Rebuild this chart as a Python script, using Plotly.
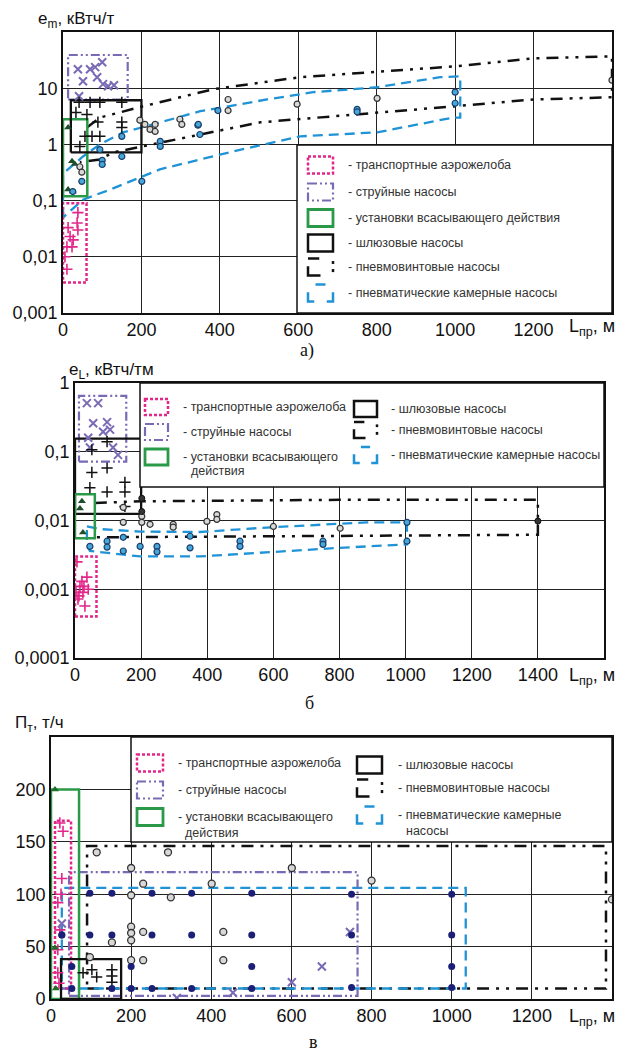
import plotly.graph_objects as go

# page body has an 8px margin, so the figure is drawn 8px in from the window corner
OFF = 8
W, H = 630 - OFF, 1052 - OFF

# ---------------- DATA ----------------
# Panel a (e_m vs L)
a_pink_box_x = [0, 60]; a_pink_box_y = [0.0035, 0.09]
a_purple_box_x = [13, 165]; a_purple_box_y = [6.3, 39]
a_green_box_x = [0, 62]; a_green_box_y = [0.12, 2.8]
a_black_box_x = [20, 200]; a_black_box_y = [0.72, 6.1]

a_screw_up_x = [61, 94, 204, 383, 605, 801, 1005, 1199, 1400]
a_screw_up_y = [2.0, 3.0, 4.76, 9.6, 15.7, 19.4, 24.6, 34, 37]
a_screw_lo_x = [43, 94, 128, 204, 350, 503, 801, 1005, 1199, 1400]
a_screw_lo_y = [0.48, 0.54, 0.72, 0.92, 1.5, 2.47, 3.7, 4.8, 6.3, 6.9]

a_chamber_x = [0, 0, 51, 94, 153, 230, 350, 520, 638, 801, 962, 1013, 1013, 995, 801, 605, 434, 247, 120, 51, 0]
a_chamber_y = [0.05, 0.3, 0.61, 1.0, 1.64, 2.27, 3.9, 6.3, 8.5, 10.4, 15.7, 16.3, 3.0, 3.0, 1.64, 1.39, 0.75, 0.36, 0.157, 0.104, 0.05]

a_pink_x = [38, 13, 36, 38, 18, 10, 5, 10, 23, 26]
a_pink_y = [0.061, 0.033, 0.040, 0.030, 0.023, 0.015, 0.010, 0.006, 0.015, 0.020]
a_purple_x = [38, 51, 69, 82, 100, 87, 102, 115, 130, 41]
a_purple_y = [21.8, 13.3, 21.8, 23.7, 29, 15.7, 11.8, 10.8, 11.3, 7.2]
a_plus_x = [41, 69, 94, 150, 33, 61, 89, 150, 150, 56, 74, 94, 43]
a_plus_y = [5.6, 5.6, 5.6, 5.6, 3.7, 3.4, 2.5, 2.5, 2.0, 1.39, 1.39, 1.39, 0.92]
a_tri_x = [13, 23, 13, 25, 30]
a_tri_y = [2.0, 0.5, 0.157, 0.145, 0.45]
a_open_x = [421, 421, 298, 303, 235, 222, 235, 196, 209, 43, 48, 597, 801, 1400]
a_open_y = [6.3, 4.0, 2.8, 2.27, 2.27, 1.85, 1.7, 2.7, 2.27, 0.40, 0.32, 5.2, 6.6, 13.9]
a_blue_x = [395, 344, 349, 248, 248, 150, 150, 100, 100, 94, 201, 48, 25, 750, 750, 1000, 1000, 345]
a_blue_y = [4.0, 2.2, 1.5, 1.13, 0.92, 1.39, 0.61, 0.52, 0.44, 0.81, 0.22, 0.22, 0.145, 4.2, 3.8, 8.5, 5.4, 2.27]

# Panel b (e_L vs L)
b_pink_box_x = [0, 65]; b_pink_box_y = [0.0004, 0.003]
b_purple_box_x = [12, 155]; b_purple_box_y = [0.072, 0.65]
b_black_box_x = [0, 200]; b_black_box_y = [0.0125, 0.155]
b_green_box_x = [0, 60]; b_green_box_y = [0.0055, 0.024]

b_screw_x = [60, 200, 800, 1400, 1400, 800, 200, 60]
b_screw_y = [0.018, 0.019, 0.020, 0.020, 0.0062, 0.006, 0.0057, 0.0057]
b_chamber_x = [36, 76, 197, 378, 580, 883, 1004, 1004, 800, 580, 378, 197, 45, 36, 36]
b_chamber_y = [0.0082, 0.0075, 0.0069, 0.0068, 0.0079, 0.0094, 0.0094, 0.0045, 0.004, 0.0034, 0.003, 0.003, 0.0036, 0.0045, 0.0082]

b_pink_x = [15, 36, 6, 24, 9, 30, 40, 21, 3, 12, 27]
b_pink_y = [0.0011, 0.0015, 0.0025, 0.0009, 0.00072, 0.00057, 0.001, 0.0013, 0.0009, 0.0008, 0.0011]
b_purple_x = [36, 70, 55, 97, 85, 40, 106, 115, 130, 45]
b_purple_y = [0.51, 0.51, 0.26, 0.27, 0.195, 0.16, 0.21, 0.115, 0.09, 0.115]
b_plus_x = [51, 97, 97, 51, 151, 151, 45, 97, 151]
b_plus_y = [0.107, 0.14, 0.058, 0.05, 0.036, 0.026, 0.030, 0.026, 0.016]
b_tri_x = [21, 24, 15]
b_tri_y = [0.019, 0.0067, 0.015]
b_open_x = [202, 202, 227, 297, 297, 146, 146, 399, 429, 429, 600, 802]
b_open_y = [0.0115, 0.0094, 0.0088, 0.0088, 0.008, 0.0155, 0.0094, 0.0097, 0.0122, 0.0104, 0.0082, 0.0077]
b_dark_x = [202, 202, 1400]
b_dark_y = [0.021, 0.0135, 0.0098]
b_blue_x = [146, 146, 97, 97, 45, 197, 248, 248, 348, 348, 499, 499, 750, 750, 1004, 1004]
b_blue_y = [0.0057, 0.0036, 0.005, 0.0041, 0.0042, 0.0042, 0.0042, 0.0035, 0.0059, 0.004, 0.005, 0.0042, 0.005, 0.0045, 0.0094, 0.005]

# Panel c (capacity vs L)
c_green_box_x = [0, 70]; c_green_box_y = [0, 200]
c_pink_box_x = [10, 50]; c_pink_box_y = [10, 170]
c_purple_box_x = [45, 765]; c_purple_box_y = [3, 121]
c_black_box_x = [25, 175]; c_black_box_y = [0, 38]
c_screw_box_x = [90, 1385]; c_screw_box_y = [10, 146]
c_chamber_box_x = [27, 1035]; c_chamber_box_y = [10, 106]

c_pink_x = [22, 27, 17, 22, 17, 17, 20, 30, 25]
c_pink_y = [168, 115, 92, 66, 47, 25, 15, 160, 100]
c_purple_x = [314, 454, 601, 746, 676, 27]
c_purple_y = [1, 6, 16, 64, 31, 72]
c_plus_x = [80, 102, 152, 152, 152, 114]
c_plus_y = [25, 28, 28, 22, 16, 21]
c_tri_x = [10, 10, 12]
c_tri_y = [200, 49, 10]
c_open_x = [114, 292, 200, 230, 401, 299, 200, 200, 200, 200, 230, 430, 152, 97, 200, 230, 430, 601, 800, 1400]
c_open_y = [140, 140, 125, 110, 110, 97, 99, 69, 63, 56, 64, 64, 54, 40, 37, 37, 37, 125, 113, 95]
c_navy_x = [97, 152, 252, 351, 501, 27, 97, 152, 252, 351, 501, 27, 501, 200, 52, 52, 152, 252, 351, 501, 200, 750, 1000, 1000, 1000, 1000, 750, 750]
c_navy_y = [101, 101, 101, 101, 101, 61, 61, 61, 61, 61, 61, 61, 31, 31, 31, 10, 10, 10, 10, 10, 10, 100, 100, 61, 31, 11, 11, 61]

# ---------------- STYLES ----------------
PINK = '#e3268a'
PURPLE = '#7a6ab6'
GREEN = '#2a9a48'
BLACK = '#111111'
BLUE = '#1f93d6'
NAVY = '#1b1f78'
PINK_DASH = '3px,2px'
PURPLE_DASH = '9px,3px,2px,3px,2px,3px'
SCREW_DASH = '12px,7px,3px,7px,3px,7px'
CHAMBER_DASH = '10px,6px'

fig = go.Figure()


def box(xr, yr, color, dash, width, ax):
    xs = [xr[0], xr[1], xr[1], xr[0], xr[0]]
    ys = [yr[0], yr[0], yr[1], yr[1], yr[0]]
    fig.add_trace(go.Scatter(x=xs, y=ys, mode='lines', xaxis='x' + ax, yaxis='y' + ax,
                             line=dict(color=color, dash=dash, width=width), hoverinfo='skip'))


def line(xs, ys, color, dash, width, ax):
    fig.add_trace(go.Scatter(x=xs, y=ys, mode='lines', xaxis='x' + ax, yaxis='y' + ax,
                             line=dict(color=color, dash=dash, width=width), hoverinfo='skip'))


def pts(xs, ys, ax, symbol, size, color, lcolor=None, lw=0):
    fig.add_trace(go.Scatter(x=xs, y=ys, mode='markers', xaxis='x' + ax, yaxis='y' + ax,
                             marker=dict(symbol=symbol, size=size, color=color,
                                         line=dict(color=lcolor if lcolor else color, width=lw)),
                             hoverinfo='skip'))


# panel a
ax = ''
line(a_screw_up_x + a_screw_lo_x[::-1], a_screw_up_y + a_screw_lo_y[::-1], BLACK, SCREW_DASH, 2.5, ax)
line(a_chamber_x, a_chamber_y, BLUE, CHAMBER_DASH, 2.3, ax)
box(a_pink_box_x, a_pink_box_y, PINK, PINK_DASH, 2.5, ax)
box(a_purple_box_x, a_purple_box_y, PURPLE, PURPLE_DASH, 2.2, ax)
box(a_green_box_x, a_green_box_y, GREEN, 'solid', 2.5, ax)
box(a_black_box_x, a_black_box_y, BLACK, 'solid', 2.3, ax)
pts(a_pink_x, a_pink_y, ax, 'cross-thin', 8, PINK, PINK, 1.6)
pts(a_purple_x, a_purple_y, ax, 'x-thin', 8, PURPLE, PURPLE, 2)
pts(a_plus_x, a_plus_y, ax, 'cross-thin', 8, BLACK, BLACK, 1.5)
pts(a_tri_x, a_tri_y, ax, 'triangle-up', 7, '#1f4f2a')
pts(a_open_x, a_open_y, ax, 'circle', 6, '#d8d8d8', '#333333', 1.2)
pts(a_blue_x, a_blue_y, ax, 'circle', 6, '#45a8d6', '#1b3d6e', 1.2)

# panel b
ax = '2'
line(b_screw_x, b_screw_y, BLACK, SCREW_DASH, 2.5, ax)
line(b_chamber_x, b_chamber_y, BLUE, CHAMBER_DASH, 2.3, ax)
box(b_pink_box_x, b_pink_box_y, PINK, PINK_DASH, 2.5, ax)
box(b_purple_box_x, b_purple_box_y, PURPLE, PURPLE_DASH, 2.2, ax)
box(b_black_box_x, b_black_box_y, BLACK, 'solid', 2.3, ax)
box(b_green_box_x, b_green_box_y, GREEN, 'solid', 2.5, ax)
pts(b_pink_x, b_pink_y, ax, 'cross-thin', 8, PINK, PINK, 1.6)
pts(b_purple_x, b_purple_y, ax, 'x-thin', 8, PURPLE, PURPLE, 2)
pts(b_plus_x, b_plus_y, ax, 'cross-thin', 8, BLACK, BLACK, 1.5)
pts(b_tri_x, b_tri_y, ax, 'triangle-up', 7, '#1f4f2a')
pts(b_open_x, b_open_y, ax, 'circle', 6, '#d8d8d8', '#333333', 1.2)
pts(b_dark_x, b_dark_y, ax, 'circle', 6, '#333333', '#111111', 1)
pts(b_blue_x, b_blue_y, ax, 'circle', 6, '#45a8d6', '#1b3d6e', 1.2)

# panel c
ax = '3'
box(c_screw_box_x, c_screw_box_y, BLACK, SCREW_DASH, 2.5, ax)
box(c_chamber_box_x, c_chamber_box_y, BLUE, CHAMBER_DASH, 2.3, ax)
box(c_purple_box_x, c_purple_box_y, PURPLE, PURPLE_DASH, 2.2, ax)
box(c_green_box_x, c_green_box_y, GREEN, 'solid', 2.5, ax)
box(c_pink_box_x, c_pink_box_y, PINK, PINK_DASH, 2.5, ax)
box(c_black_box_x, c_black_box_y, BLACK, 'solid', 2.3, ax)
pts(c_pink_x, c_pink_y, ax, 'cross-thin', 8, PINK, PINK, 1.6)
pts(c_purple_x, c_purple_y, ax, 'x-thin', 8, PURPLE, PURPLE, 2)
pts(c_plus_x, c_plus_y, ax, 'cross-thin', 8, BLACK, BLACK, 1.5)
pts(c_tri_x, c_tri_y, ax, 'triangle-up', 7, '#1f6f2a')
pts(c_open_x, c_open_y, ax, 'circle', 7, '#d8d8d8', '#333333', 1.3)
pts(c_navy_x, c_navy_y, ax, 'circle', 7, NAVY, NAVY, 0)

# ---------------- AXES ----------------
FONT = 'Liberation Sans, Arial, sans-serif'
TF = dict(family=FONT, size=18, color='#111')


def px(x):
    return (x - OFF) / W


def py(y):
    return 1 - (y - OFF) / H


def dom_x(p0, p1):
    return [px(p0), px(p1)]


def dom_y(p0, p1):
    return [py(p1), py(p0)]


axcommon = dict(showgrid=True, gridcolor='#222', gridwidth=1.3, showline=True, linecolor='#111',
                linewidth=1.6, mirror=True, ticks='', zeroline=False, tickfont=TF, fixedrange=True,
                automargin=False, minor=dict(showgrid=False))

fig.update_layout(
    template='none',
    width=W, height=H, autosize=False, margin=dict(l=0, r=0, t=0, b=0, pad=0),
    paper_bgcolor='white', plot_bgcolor='white', showlegend=False,
    xaxis=dict(axcommon, domain=dom_x(63, 612), range=[0, 1400], anchor='y',
               tickvals=[0, 200, 400, 600, 800, 1000, 1200]),
    yaxis=dict(axcommon, domain=dom_y(32, 313), type='log', range=[-3, 2], anchor='x',
               tickvals=[0.001, 0.01, 0.1, 1, 10], ticktext=['0,001', '0,01', '0,1', '1', '10']),
    xaxis2=dict(axcommon, domain=dom_x(75, 604), range=[0, 1600], anchor='y2',
                tickvals=[0, 200, 400, 600, 800, 1000, 1200, 1400]),
    yaxis2=dict(axcommon, domain=dom_y(383, 658), type='log', range=[-4, 0], anchor='x2',
                tickvals=[0.0001, 0.001, 0.01, 0.1, 1], ticktext=['0,0001', '0,001', '0,01', '0,1', '1']),
    xaxis3=dict(axcommon, domain=dom_x(51, 612), range=[0, 1400], anchor='y3',
                tickvals=[0, 200, 400, 600, 800, 1000, 1200]),
    yaxis3=dict(axcommon, domain=dom_y(737, 999), range=[0, 250], anchor='x3',
                tickvals=[0, 50, 100, 150, 200]),
)

# ---------------- ANNOTATIONS / LEGENDS ----------------
shapes = []
annots = []


def text(x, y, s, size=12.5, color='#333', anchor='left', family=FONT):
    annots.append(dict(x=px(x), y=py(y), xref='paper', yref='paper', text=s, showarrow=False,
                       xanchor=anchor, yanchor='middle', font=dict(family=family, size=size, color=color)))


def rect(x0, y0, x1, y1, color, dash='solid', width=2, fill=None):
    shapes.append(dict(type='rect', xref='paper', yref='paper', x0=px(x0), x1=px(x1), y0=py(y0), y1=py(y1),
                       line=dict(color=color, dash=dash, width=width),
                       fillcolor=fill if fill else 'rgba(0,0,0,0)', layer='above'))


def seg(pts_, color, width=2.2, dash='solid'):
    path = 'M ' + ' L '.join(f'{px(a):.5f},{py(b):.5f}' for a, b in pts_)
    shapes.append(dict(type='path', xref='paper', yref='paper', path=path,
                       line=dict(color=color, width=width, dash=dash), layer='above'))


def screw_icon(x0, y0, x1, y1):
    w = x1 - x0; h = y1 - y0
    seg([(x0, y0), (x0 + 0.45 * w, y0)], BLACK, 2.5)
    seg([(x0, y0 + 0.45 * h), (x0, y1), (x0 + 0.5 * w, y1)], BLACK, 2.5)
    seg([(x1, y0 + 0.15 * h), (x1, y0 + 0.32 * h)], BLACK, 2.5)
    seg([(x1, y0 + 0.62 * h), (x1, y0 + 0.8 * h)], BLACK, 2.5)


def chamber_icon(x0, y0, x1, y1):
    w = x1 - x0; h = y1 - y0
    seg([(x0 + 0.3 * w, y0), (x0 + 0.7 * w, y0)], BLUE, 2.5)
    seg([(x0, y0 + 0.45 * h), (x0, y1), (x0 + 0.25 * w, y1)], BLUE, 2.5)
    seg([(x1, y0 + 0.45 * h), (x1, y1), (x1 - 0.25 * w, y1)], BLUE, 2.5)


def icon(kind, xc0, yc, w=26, h=17):
    x0, x1 = xc0, xc0 + w
    y0, y1 = yc - h / 2, yc + h / 2
    if kind == 'pink':
        rect(x0, y0, x1, y1, PINK, PINK_DASH, 2.5)
    elif kind == 'purple':
        rect(x0, y0, x1, y1, PURPLE, PURPLE_DASH, 2.2)
    elif kind == 'green':
        rect(x0, y0, x1, y1, GREEN, 'solid', 2.8)
    elif kind == 'black':
        rect(x0, y0, x1, y1, BLACK, 'solid', 2.5)
    elif kind == 'screw':
        screw_icon(x0, y0, x1, y1)
    elif kind == 'chamber':
        chamber_icon(x0, y0, x1, y1)


L1 = '- транспортные аэрожелоба'
L2 = '- струйные насосы'
L3 = '- установки всасывающего действия'
L3a = '- установки всасывающего'
L3b = 'действия'
L4 = '- шлюзовые насосы'
L5 = '- пневмовинтовые насосы'
L6 = '- пневматические камерные насосы'
L6a = '- пневматические камерные'
L6b = 'насосы'

# legend a
rect(297, 145, 612, 313, BLACK, 'solid', 1.5, 'white')
rows_a = [165, 192, 218, 243, 267, 293]
kinds = ['pink', 'purple', 'green', 'black', 'screw', 'chamber']
labels_a = [L1, L2, L3, L4, L5, L6]
for r, k, lab in zip(rows_a, kinds, labels_a):
    icon(k, 308, r, 25, 17)
    text(346, r, lab)

# legend b
rect(140, 383, 604, 487, BLACK, 'solid', 1.5, 'white')
for r, k, lab in zip([407, 432, 457], kinds[:3], [L1, L2, L3a]):
    icon(k, 145, r, 23, 16)
    text(181, r, lab)
text(189, 471, L3b)
for r, k, lab in zip([409, 430, 455], kinds[3:], [L4, L5, L6]):
    icon(k, 354, r, 23, 16)
    text(389, r, lab)

# legend c
rect(131, 737, 612, 842, BLACK, 'solid', 1.5, 'white')
for r, k, lab in zip([763, 790, 817], kinds[:3], [L1, L2, L3a]):
    icon(k, 137, r, 26, 17)
    text(176, r, lab)
text(183, 833, L3b)
for r, k, lab in zip([765, 788, 815], kinds[3:], [L4, L5, L6a]):
    icon(k, 357, r, 25, 17)
    text(396, r, lab)
text(404, 831, L6b)

# axis titles
text(36, 20, 'e<sub>m</sub>, кВтч/т', 17, '#111')
text(617, 328, 'L<sub>пр</sub>, м', 18, '#111', 'right')
text(67, 371, 'e<sub>L</sub>, кВтч/тм', 17, '#111')
text(617, 676, 'L<sub>пр</sub>, м', 18, '#111', 'right')
text(13, 724, 'П<sub>т</sub>, т/ч', 17, '#111')
text(617, 1017, 'L<sub>пр</sub>, м', 18, '#111', 'right')

SERIF = 'Liberation Serif, Times New Roman, serif'
text(307, 350, 'а)', 18, '#111', 'center', SERIF)
text(309, 703, 'б', 18, '#111', 'center', SERIF)
text(313, 1042, 'в', 18, '#111', 'center', SERIF)

fig.update_layout(shapes=shapes, annotations=annots)
fig.write_html('out.html')
